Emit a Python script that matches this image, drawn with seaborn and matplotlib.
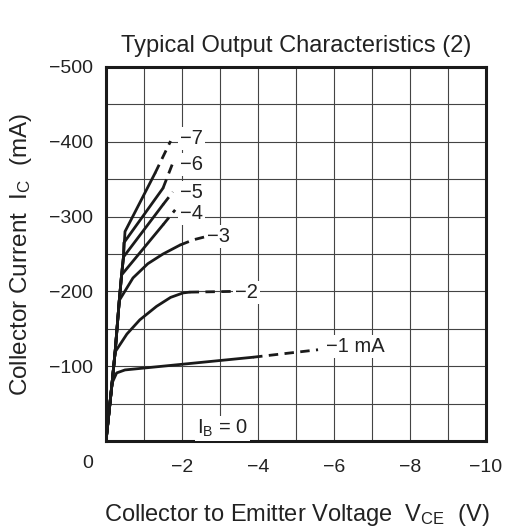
import numpy as np
import pandas as pd
import matplotlib
matplotlib.use('Agg')
import matplotlib.pyplot as plt
import seaborn as sns

# curves: V_CE (V), I_C (mA); "split" = index where the dashed part starts
v_1ma = [0.0, -0.16, -0.28, -0.5, -3.87, -5.58]
i_1ma = [0.0, -77.5, -91, -95, -112, -122]
split_1ma = 4

v_2ma = [0.0, -0.16, -0.24, -0.55, -0.89, -1.33, -1.7, -2.03, -2.2, -3.35]
i_2ma = [0.0, -77.5, -119, -143, -162, -180, -192, -198, -199, -200]
split_2ma = 8

v_3ma = [0.0, -0.16, -0.24, -0.35, -0.71, -1.1, -1.5, -1.95, -2.3, -2.61]
i_3ma = [0.0, -77.5, -119, -188, -218, -237, -250, -262, -269, -273]
split_3ma = 7

v_4ma = [0.0, -0.16, -0.24, -0.35, -0.41, -1.5, -1.82]
i_4ma = [0.0, -77.5, -119, -188, -222, -289, -309]
split_4ma = 5

v_5ma = [0.0, -0.16, -0.24, -0.35, -0.41, -0.46, -1.5, -1.76]
i_5ma = [0.0, -77.5, -119, -188, -222, -246, -316, -333]
split_5ma = 6

v_6ma = [0.0, -0.16, -0.24, -0.35, -0.41, -0.46, -0.47, -1.5, -1.76]
i_6ma = [0.0, -77.5, -119, -188, -222, -246, -265, -338, -372]
split_6ma = 7

v_7ma = [0.0, -0.16, -0.24, -0.35, -0.41, -0.46, -0.5, -1.29, -1.70]
i_7ma = [0.0, -77.5, -119, -188, -222, -246, -280, -358, -401]
split_7ma = 7

curve_names = ['-1 mA', '-2', '-3', '-4', '-5', '-6', '-7']
label_v = [-5.8, -3.39, -2.65, -1.95, -1.95, -1.95, -1.95]
label_i = [-126, -199, -273, -304, -332, -370, -405]

xticks = [-2, -4, -6, -8, -10]
yticks = [-100, -200, -300, -400, -500]

curves = [(v_1ma, i_1ma, split_1ma), (v_2ma, i_2ma, split_2ma), (v_3ma, i_3ma, split_3ma),
          (v_4ma, i_4ma, split_4ma), (v_5ma, i_5ma, split_5ma), (v_6ma, i_6ma, split_6ma),
          (v_7ma, i_7ma, split_7ma)]

sns.set_style('white')
plt.rcParams['font.family'] = ['Liberation Sans', 'DejaVu Sans']
plt.rcParams['axes.unicode_minus'] = True

ink = '#1a1a1a'
txt = '#222222'

fig = plt.figure(figsize=(5.06, 5.28), dpi=100)
ax = fig.add_axes([106 / 506, 1 - 441 / 528, 380 / 506, 374 / 528])

for (v, i, s), name in zip(curves, curve_names):
    solid = pd.DataFrame({'v': v[:s + 1], 'i': i[:s + 1]})
    dashed = pd.DataFrame({'v': v[s:], 'i': i[s:]})
    sns.lineplot(x='v', y='i', data=solid, ax=ax, color=ink, lw=2.0,
                 sort=False, estimator=None)
    sns.lineplot(x='v', y='i', data=dashed, ax=ax, color=ink, lw=2.0,
                 sort=False, estimator=None)
    ax.lines[-1].set_linestyle((0, (3.4, 2.3)))

for name, lv, li in zip(curve_names, label_v, label_i):
    ax.text(lv, li, name.replace('-', '\u2212'), fontsize=14.5, color=txt, ha='left', va='center',
            bbox=dict(facecolor='white', edgecolor='none', pad=1.5), zorder=3)

ax.text(-2.4, -17, '$\\mathregular{I_B}$ = 0', fontsize=14.5, color=txt, ha='left', va='center',
        bbox=dict(facecolor='white', edgecolor='none', pad=1.5), zorder=3)

ax.set_xlim(0, -10)
ax.set_ylim(0, -500)
ax.set_xticks(xticks)
ax.set_yticks(yticks)
ax.set_xticks(np.arange(0, -10.5, -1), minor=True)
ax.set_yticks(np.arange(0, -525, -50), minor=True)
ax.grid(which='both', color='#444444', lw=0.8)
ax.tick_params(which='both', length=0, labelsize=14, labelcolor=txt)
ax.tick_params(axis='x', pad=13)
ax.tick_params(axis='y', pad=9.5)
for sp in ax.spines.values():
    sp.set_visible(True)
    sp.set_color(ink)
    sp.set_linewidth(2.2)

ax.annotate('0', xy=(0, 0), xycoords='axes fraction', xytext=(-18, -14),
            textcoords='offset pixels', ha='center', va='top', fontsize=14, color=txt)

ax.set_title('Typical Output Characteristics (2)', fontsize=17, color=txt, pad=11)
ax.set_xlabel('Collector to Emitter Voltage  $\\mathregular{V_{CE}}$  (V)', fontsize=17, color=txt)
ax.set_ylabel('Collector Current  $\\mathregular{I_C}$  (mA)', fontsize=17.5, color=txt)
ax.xaxis.set_label_coords(0.503, -0.163)
ax.yaxis.set_label_coords(-0.19, 0.50)

fig.savefig('out.png', dpi=100)
